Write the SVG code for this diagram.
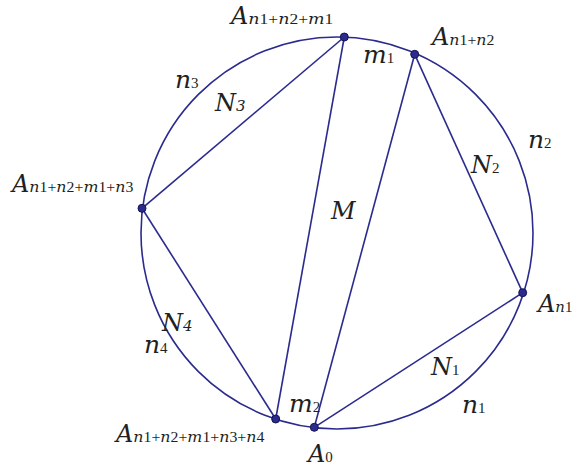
<svg xmlns="http://www.w3.org/2000/svg" width="573" height="469" viewBox="0 0 573 469">
<style>
.ln{stroke:#2b2b8e;stroke-width:1.6;fill:none}
.pt{fill:#2b2b8e;stroke:#141450;stroke-width:1}
text{fill:#231f20;font-family:"Liberation Serif","Times New Roman",serif}
.b{font-family:"DejaVu Serif",serif;font-style:italic;font-size:24px}
.l{font-family:"DejaVu Serif",serif;font-style:italic;font-size:25px}
.s{font-family:"Liberation Serif",serif;font-size:15px}
.i{font-family:"DejaVu Serif",serif;font-style:italic}
</style>
<rect width="573" height="469" fill="#fff"/>
<g id="circle"><circle class="ln" cx="337" cy="233" r="196"/></g>
<g id="connectors">
<line class="ln" x1="344.3" y1="37" x2="142" y2="208.3"/>
<line class="ln" x1="142" y1="208.3" x2="275.7" y2="419"/>
<line class="ln" x1="344.3" y1="37" x2="275.7" y2="419"/>
<line class="ln" x1="414.7" y1="54.3" x2="314.3" y2="427.3"/>
<line class="ln" x1="414.7" y1="54.3" x2="522.7" y2="292.7"/>
<line class="ln" x1="314.3" y1="427.3" x2="522.7" y2="292.7"/>
</g>
<g id="A_top"><circle class="pt" cx="344.3" cy="37" r="4"/>
<text x="231" y="24"><tspan class="b">A</tspan><tspan class="s" textLength="85" lengthAdjust="spacingAndGlyphs"><tspan class="i">n</tspan>1+<tspan class="i">n</tspan>2+<tspan class="i">m</tspan>1</tspan></text></g>
<g id="A_n1n2"><circle class="pt" cx="414.7" cy="54.3" r="4"/>
<text x="432" y="45"><tspan class="b">A</tspan><tspan class="s" textLength="45" lengthAdjust="spacingAndGlyphs"><tspan class="i">n</tspan>1+<tspan class="i">n</tspan>2</tspan></text></g>
<g id="A_left"><circle class="pt" cx="142" cy="208.3" r="4"/>
<text x="12" y="192"><tspan class="b">A</tspan><tspan class="s" textLength="104" lengthAdjust="spacingAndGlyphs"><tspan class="i">n</tspan>1+<tspan class="i">n</tspan>2+<tspan class="i">m</tspan>1+<tspan class="i">n</tspan>3</tspan></text></g>
<g id="A_bl"><circle class="pt" cx="275.7" cy="419" r="4"/>
<text x="116" y="442"><tspan class="b">A</tspan><tspan class="s" textLength="131" lengthAdjust="spacingAndGlyphs"><tspan class="i">n</tspan>1+<tspan class="i">n</tspan>2+<tspan class="i">m</tspan>1+<tspan class="i">n</tspan>3+<tspan class="i">n</tspan>4</tspan></text></g>
<g id="A_0"><circle class="pt" cx="314.3" cy="427.3" r="4"/>
<text x="308" y="462"><tspan class="b">A</tspan><tspan class="s">0</tspan></text></g>
<g id="A_n1"><circle class="pt" cx="522.7" cy="292.7" r="4"/>
<text x="538" y="312"><tspan class="b">A</tspan><tspan class="s" textLength="17" lengthAdjust="spacingAndGlyphs"><tspan class="i">n</tspan>1</tspan></text></g>
<g id="labels">
<text x="363" y="63"><tspan class="l">m</tspan><tspan class="s">1</tspan></text>
<text x="289" y="412"><tspan class="l">m</tspan><tspan class="s">2</tspan></text>
<text x="331" y="219" class="b">M</text>
<text x="175" y="88"><tspan class="l">n</tspan><tspan class="s">3</tspan></text>
<text x="215" y="111"><tspan class="b">N</tspan><tspan class="s i">3</tspan></text>
<text x="162" y="331"><tspan class="b">N</tspan><tspan class="s i">4</tspan></text>
<text x="144" y="353"><tspan class="l">n</tspan><tspan class="s">4</tspan></text>
<text x="471" y="173"><tspan class="b">N</tspan><tspan class="s">2</tspan></text>
<text x="528" y="148"><tspan class="l">n</tspan><tspan class="s">2</tspan></text>
<text x="431" y="375"><tspan class="b">N</tspan><tspan class="s">1</tspan></text>
<text x="462" y="413"><tspan class="l">n</tspan><tspan class="s">1</tspan></text>
</g>
</svg>
